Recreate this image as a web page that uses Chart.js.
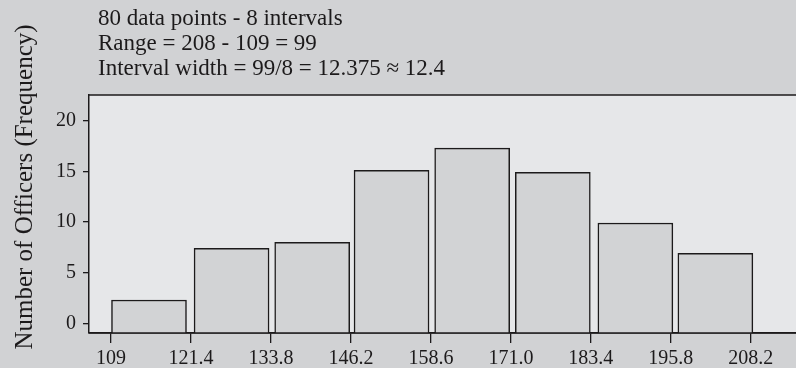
<!DOCTYPE html>
<html lang="en">
<head>
    <meta charset="UTF-8">
    <title>Number of Officers - Histogram</title>
    <script src="https://cdn.jsdelivr.net/npm/chart.js"></script>
    <style>
        body {
            margin: 0;
            background: #d1d2d4;
        }
        canvas {
            display: block;
        }
    </style>
</head>
<body>
    <canvas id="histChart" width="796" height="368"></canvas>

    <script>
        // Values
        const noteLines = [
            '80 data points - 8 intervals',
            'Range = 208 - 109 = 99',
            'Interval width = 99/8 = 12.375 \u2248 12.4'
        ];
        const yTitle = 'Number of Officers (Frequency)';
        const binEdges = [109, 121.4, 133.8, 146.2, 158.6, 171.0, 183.4, 195.8, 208.2];
        const xTickLabels = ['109', '121.4', '133.8', '146.2', '158.6', '171.0', '183.4', '195.8', '208.2'];
        const barCenters = [114.9, 127.7, 140.2, 152.5, 165.0, 177.5, 190.3, 202.7];
        const frequencies = [2.3, 7.4, 8.0, 15.1, 17.3, 14.9, 9.9, 6.9];
        const yTickValues = [0, 5, 10, 15, 20];

        const ink = '#1c1a1b';
        const serif = '"Liberation Serif", "Times New Roman", serif';
        const yMin = -0.96;

        // plot background, frame lines and the free-standing texts
        const decor = {
            id: 'decor',
            beforeDraw(chart) {
                const { ctx, chartArea: a } = chart;
                ctx.save();
                ctx.fillStyle = '#e6e7e9';
                ctx.fillRect(a.left, a.top, a.right - a.left, a.bottom - a.top);
                ctx.strokeStyle = ink;
                ctx.lineWidth = 1.5;
                ctx.beginPath();
                ctx.moveTo(a.left, a.top);
                ctx.lineTo(a.right, a.top);
                ctx.stroke();

                ctx.fillStyle = ink;
                ctx.font = '23px ' + serif;
                ctx.textAlign = 'left';
                ctx.textBaseline = 'alphabetic';
                noteLines.forEach((line, i) => ctx.fillText(line, 98, 25 + i * 25));

                ctx.font = '25px ' + serif;
                ctx.translate(31.5, 187);
                ctx.rotate(-Math.PI / 2);
                ctx.textAlign = 'center';
                ctx.fillText(yTitle, 0, 0);
                ctx.restore();
            },
            afterDatasetsDraw(chart) {
                // bars run down to the frame, so put the bottom axis line back on top
                const { ctx, chartArea: a } = chart;
                ctx.save();
                ctx.strokeStyle = ink;
                ctx.lineWidth = 1.5;
                ctx.beginPath();
                ctx.moveTo(a.left, a.bottom);
                ctx.lineTo(a.right, a.bottom);
                ctx.stroke();
                ctx.restore();
            }
        };

        new Chart(document.getElementById('histChart'), {
            type: 'bar',
            data: {
                datasets: [{
                    data: barCenters.map((x, i) => ({ x: x, y: frequencies[i] })),
                    base: yMin,
                    backgroundColor: '#d2d3d5',
                    borderColor: ink,
                    borderWidth: 1.5,
                    barThickness: 75
                }]
            },
            options: {
                responsive: false,
                animation: false,
                layout: { padding: { top: 95, left: 0, right: 0, bottom: 0 } },
                plugins: {
                    legend: { display: false },
                    tooltip: { enabled: false }
                },
                scales: {
                    x: {
                        type: 'linear',
                        offset: false,
                        min: 105.6,
                        max: 215.2,
                        afterBuildTicks: s => { s.ticks = binEdges.map(v => ({ value: v })); },
                        afterFit: s => { s.height = 35; },
                        ticks: {
                            autoSkip: false,
                            maxRotation: 0,
                            padding: 4,
                            color: ink,
                            font: { family: serif, size: 20 },
                            callback: (v, i) => xTickLabels[i]
                        },
                        grid: {
                            offset: false,
                            drawOnChartArea: false,
                            drawTicks: true,
                            tickLength: 10,
                            color: ink,
                            lineWidth: 1.3
                        },
                        border: { color: ink, width: 1.5 }
                    },
                    y: {
                        min: yMin,
                        max: 22.54,
                        afterBuildTicks: s => { s.ticks = yTickValues.map(v => ({ value: v })); },
                        afterFit: s => { s.width = 89; },
                        ticks: {
                            padding: 7,
                            color: ink,
                            font: { family: serif, size: 20 }
                        },
                        grid: {
                            drawOnChartArea: false,
                            drawTicks: true,
                            tickLength: 6,
                            color: ink,
                            lineWidth: 1.3
                        },
                        border: { color: ink, width: 1.5 }
                    }
                }
            },
            plugins: [decor]
        });
    </script>
</body>
</html>
